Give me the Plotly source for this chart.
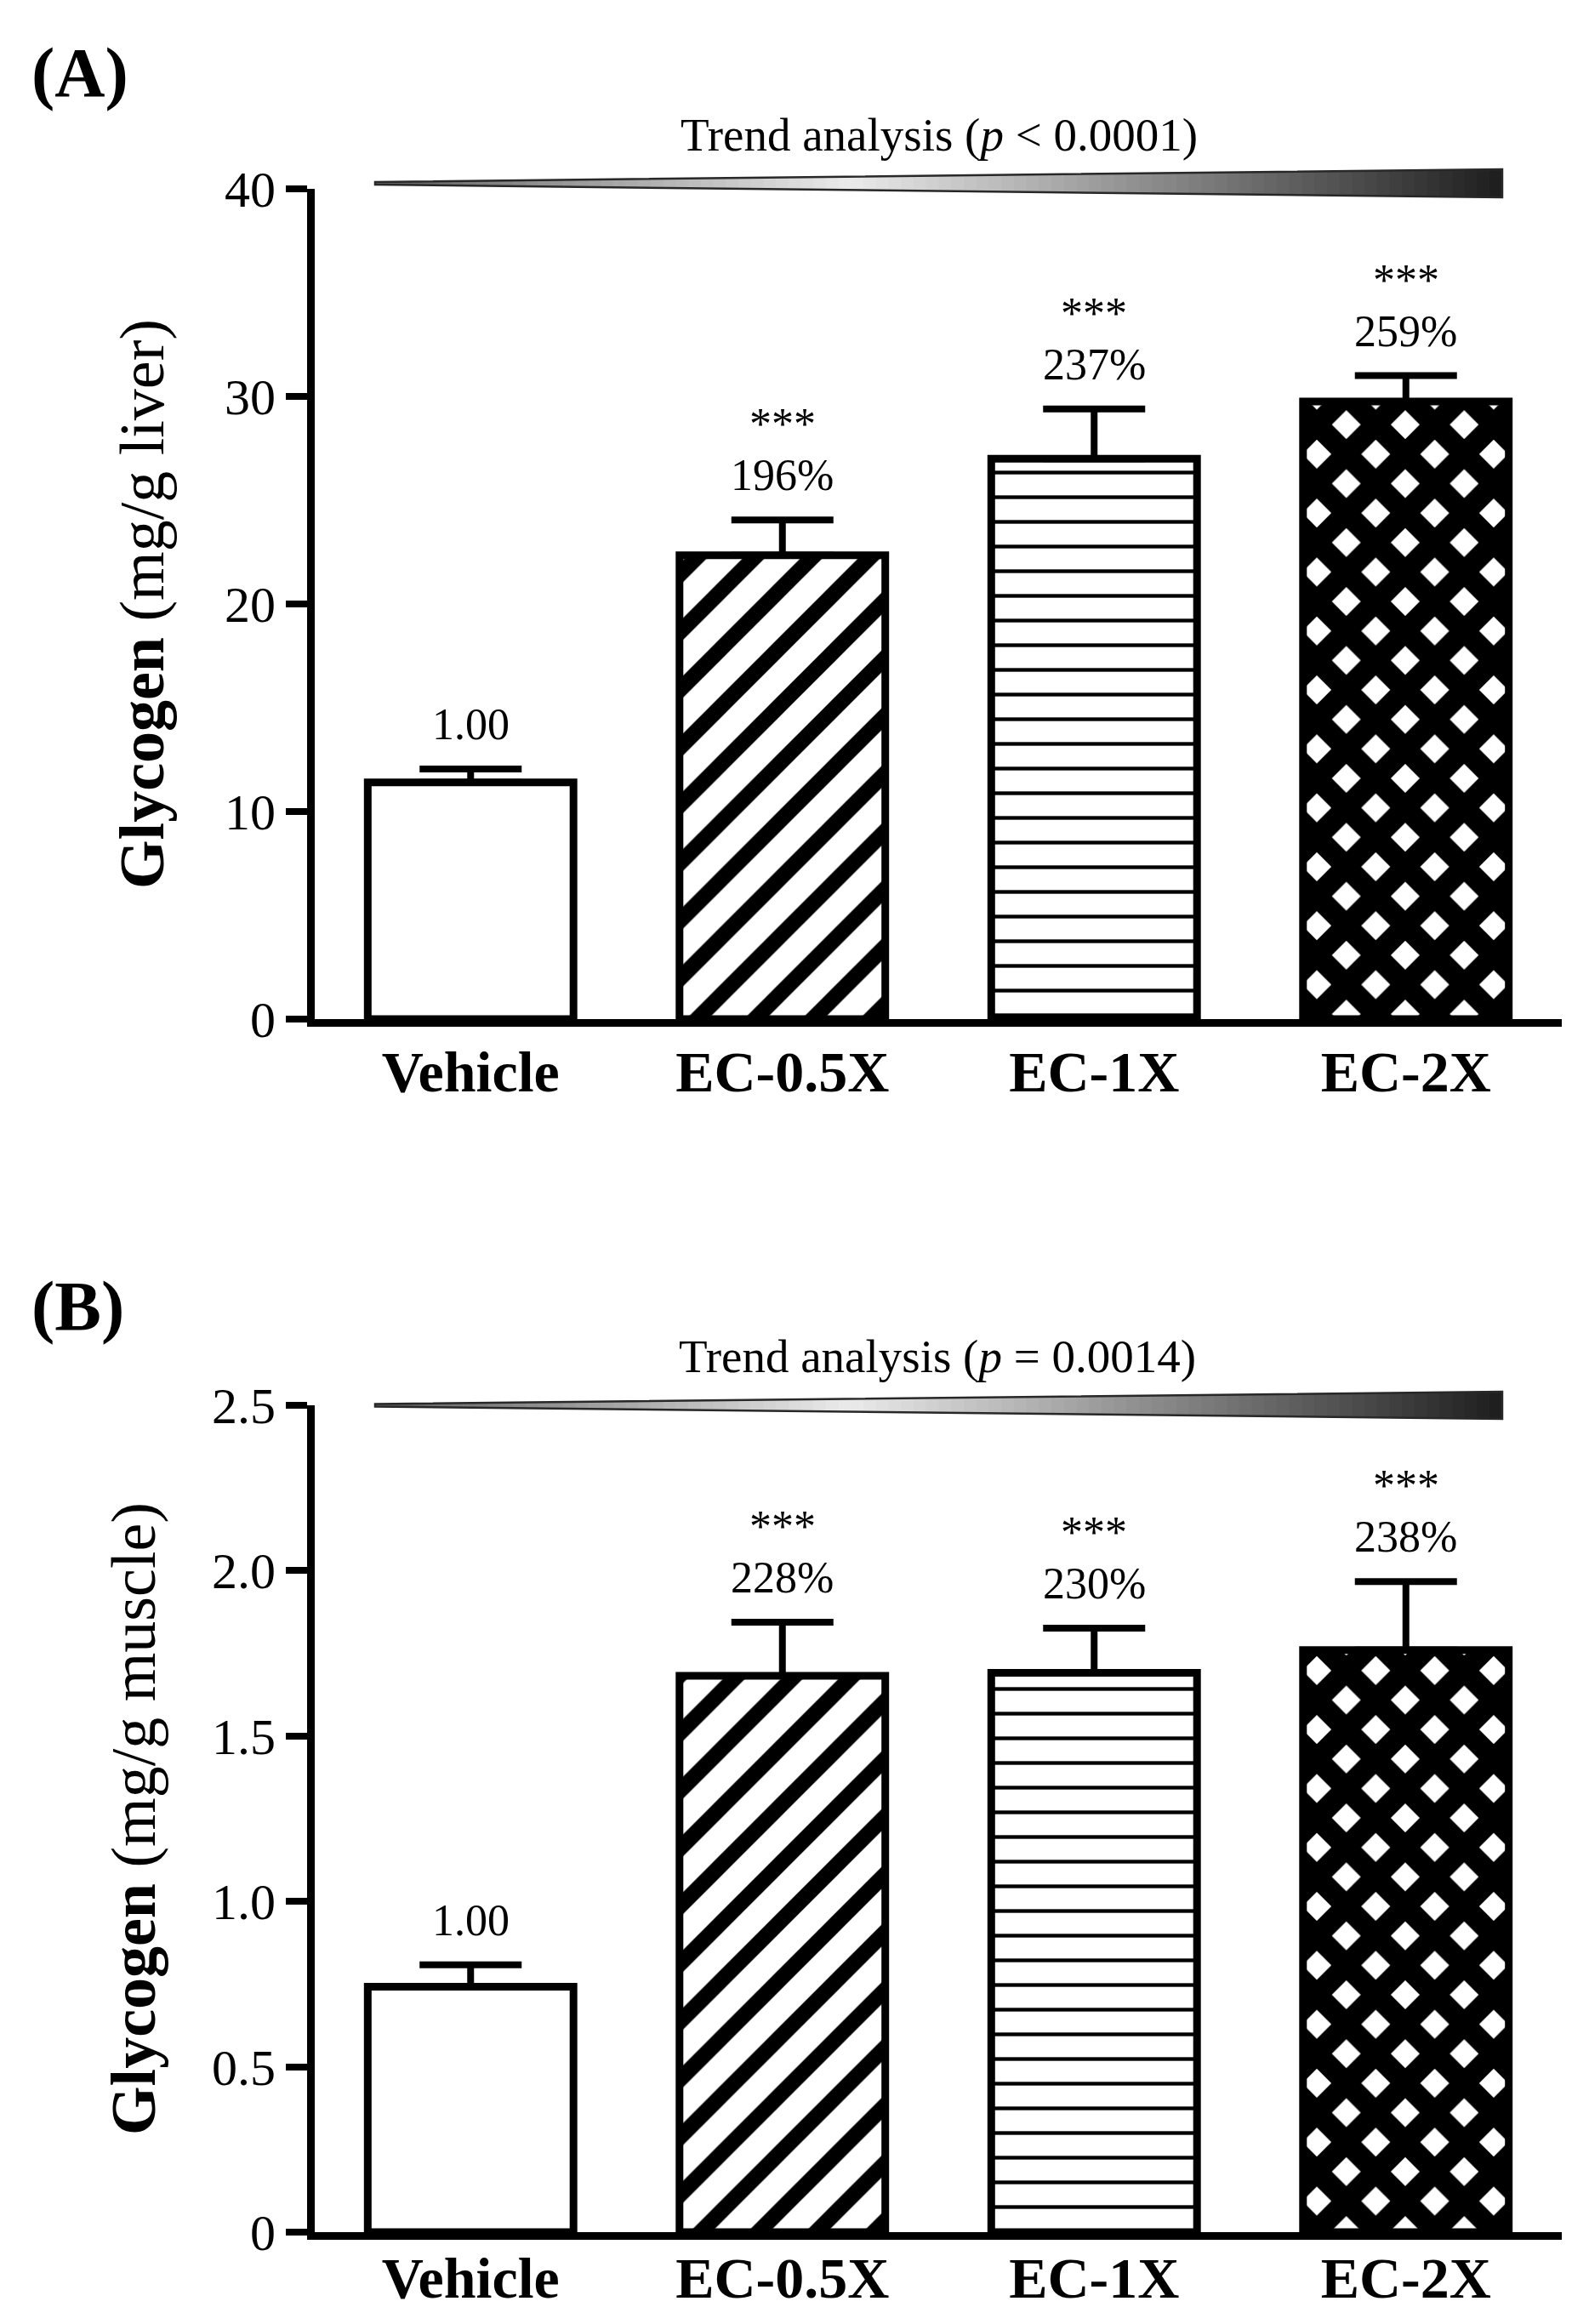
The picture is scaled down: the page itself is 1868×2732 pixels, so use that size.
import plotly.graph_objects as go

# data
groups = ["Vehicle", "EC-0.5X", "EC-1X", "EC-2X"]

liver_mean = [11.4, 22.35, 27.0, 29.75]
liver_sem = [0.65, 1.7, 2.4, 1.25]
liver_pct = ["1.00", "196%", "237%", "259%"]

muscle_mean = [0.742, 1.682, 1.691, 1.76]
muscle_sem = [0.066, 0.162, 0.135, 0.207]
muscle_pct = ["1.00", "228%", "230%", "238%"]

stars = ["", "***", "***", "***"]

liver_ticks = [0, 10, 20, 30, 40]
muscle_ticks = [0, 0.5, 1.0, 1.5, 2.0, 2.5]
muscle_ticktext = ["0", "0.5", "1.0", "1.5", "2.0", "2.5"]

W, H = 1868, 2732
SERIF = "Liberation Serif, Times New Roman, serif"

def py(px):
    # pixel row -> paper y
    return 1 - px / H

def px_x(px):
    return px / W

pattern = dict(
    shape=["", "/", "-", "x"],
    size=[10, 48, 29, 49],
    solidity=[0.1, 0.38, 0.15, 0.76],
    fgcolor="black",
    bgcolor="white",
    fillmode="replace",
)

def bar_trace(y, err, xa, ya):
    return go.Bar(
        x=groups, y=y, xaxis=xa, yaxis=ya,
        marker=dict(color="white", line=dict(color="black", width=9), pattern=pattern),
        error_y=dict(type="data", symmetric=False, array=err, arrayminus=[0] * len(err),
                     color="black", thickness=8, width=60),
        showlegend=False,
    )

fig = go.Figure()
fig.add_trace(bar_trace(liver_mean, liver_sem, "x", "y"))
fig.add_trace(bar_trace(muscle_mean, muscle_sem, "x2", "y2"))

xdom = [px_x(370), px_x(1836)]
axis_common = dict(showgrid=False, zeroline=False, showline=True, linecolor="black",
                   linewidth=9, automargin=False)

fig.update_layout(
    width=W, height=H,
    margin=dict(l=0, r=0, t=0, b=0),
    plot_bgcolor="white", paper_bgcolor="white",
    bargap=0.34,
    font=dict(family=SERIF, color="black"),
    xaxis=dict(domain=xdom, anchor="y", ticks="", range=[-0.5, 3.5],
               tickfont=dict(size=68, family=SERIF), ticklabelstandoff=-6,
               tickvals=groups, ticktext=["<b>%s</b>" % g for g in groups], **axis_common),
    yaxis=dict(domain=[py(1198), py(222)], anchor="x", range=[0, 40], tickvals=liver_ticks,
               ticks="outside", ticklen=25, tickwidth=8, tickcolor="black",
               tickfont=dict(size=60, family=SERIF),
               title=dict(text="<b>Glycogen</b> (mg/g liver)", font=dict(size=74, family=SERIF),
                          standoff=51),
               **axis_common),
    xaxis2=dict(domain=xdom, anchor="y2", ticks="", range=[-0.5, 3.5],
                tickfont=dict(size=68, family=SERIF), ticklabelstandoff=-14,
                tickvals=groups, ticktext=["<b>%s</b>" % g for g in groups], **axis_common),
    yaxis2=dict(domain=[py(2624), py(1652)], anchor="x2", range=[0, 2.5], tickvals=muscle_ticks,
                ticktext=muscle_ticktext,
                ticks="outside", ticklen=25, tickwidth=8, tickcolor="black",
                tickfont=dict(size=60, family=SERIF),
                title=dict(text="<b>Glycogen</b> (mg/g muscle)", font=dict(size=74, family=SERIF),
                           standoff=46),
                **axis_common),
)

# value labels above the error bars
for xa, ya, means, sems, pcts in [("x", "y", liver_mean, liver_sem, liver_pct),
                                  ("x2", "y2", muscle_mean, muscle_sem, muscle_pct)]:
    for g, m, s, p, st in zip(groups, means, sems, pcts, stars):
        fig.add_annotation(x=g, y=m + s, xref=xa, yref=ya, text=p, showarrow=False,
                           yanchor="bottom", yshift=22, font=dict(size=52, family=SERIF))
        if st:
            fig.add_annotation(x=g, y=m + s, xref=xa, yref=ya, text=st, showarrow=False,
                               yanchor="bottom", yshift=82, font=dict(size=52, family=SERIF))

# panel letters and trend labels
fig.add_annotation(x=px_x(35), y=py(85), xref="paper", yref="paper", text="<b>(A)</b>",
                   showarrow=False, xanchor="left", yanchor="middle", font=dict(size=82))
fig.add_annotation(x=px_x(35), y=py(1535), xref="paper", yref="paper", text="<b>(B)</b>",
                   showarrow=False, xanchor="left", yanchor="middle", font=dict(size=82))
fig.add_annotation(x=px_x(1104), y=py(158), xref="paper", yref="paper",
                   text="Trend analysis (<i>p</i> < 0.0001)", showarrow=False,
                   yanchor="middle", font=dict(size=55))
fig.add_annotation(x=px_x(1102), y=py(1594), xref="paper", yref="paper",
                   text="Trend analysis (<i>p</i> = 0.0014)", showarrow=False,
                   yanchor="middle", font=dict(size=55))

# gradient wedges for the trend
def wedge(yc, half, x0=441, x1=1766, n=90):
    stops = [(0.0, 95), (0.42, 235), (1.0, 30)]
    def grey(t):
        for (ta, ga), (tb, gb) in zip(stops[:-1], stops[1:]):
            if ta <= t <= tb:
                return ga + (gb - ga) * (t - ta) / (tb - ta)
        return stops[-1][1]
    def hh(t):
        return 1.5 + (half - 1.5) * t
    for i in range(n):
        ta, tb = i / n, (i + 1) / n
        xa_, xb_ = x0 + (x1 - x0) * ta, x0 + (x1 - x0) * tb + 0.8
        g = int(grey((ta + tb) / 2))
        path = "M %f %f L %f %f L %f %f L %f %f Z" % (
            px_x(xa_), py(yc - hh(ta)), px_x(xb_), py(yc - hh(tb)),
            px_x(xb_), py(yc + hh(tb)), px_x(xa_), py(yc + hh(ta)))
        fig.add_shape(type="path", path=path, xref="paper", yref="paper",
                      fillcolor="rgb(%d,%d,%d)" % (g, g, g), line=dict(width=0), layer="above")
    outline = "M %f %f L %f %f L %f %f L %f %f Z" % (
        px_x(x0), py(yc - 1.5), px_x(x1), py(yc - half),
        px_x(x1), py(yc + half), px_x(x0), py(yc + 1.5))
    fig.add_shape(type="path", path=outline, xref="paper", yref="paper",
                  line=dict(color="rgb(40,40,40)", width=2.5), layer="above")

wedge(215.5, 16.5)
wedge(1652, 16)

fig.write_html("out.html", config={"displayModeBar": False},
               post_script="document.body.style.margin='0';document.body.style.overflow='hidden';")
